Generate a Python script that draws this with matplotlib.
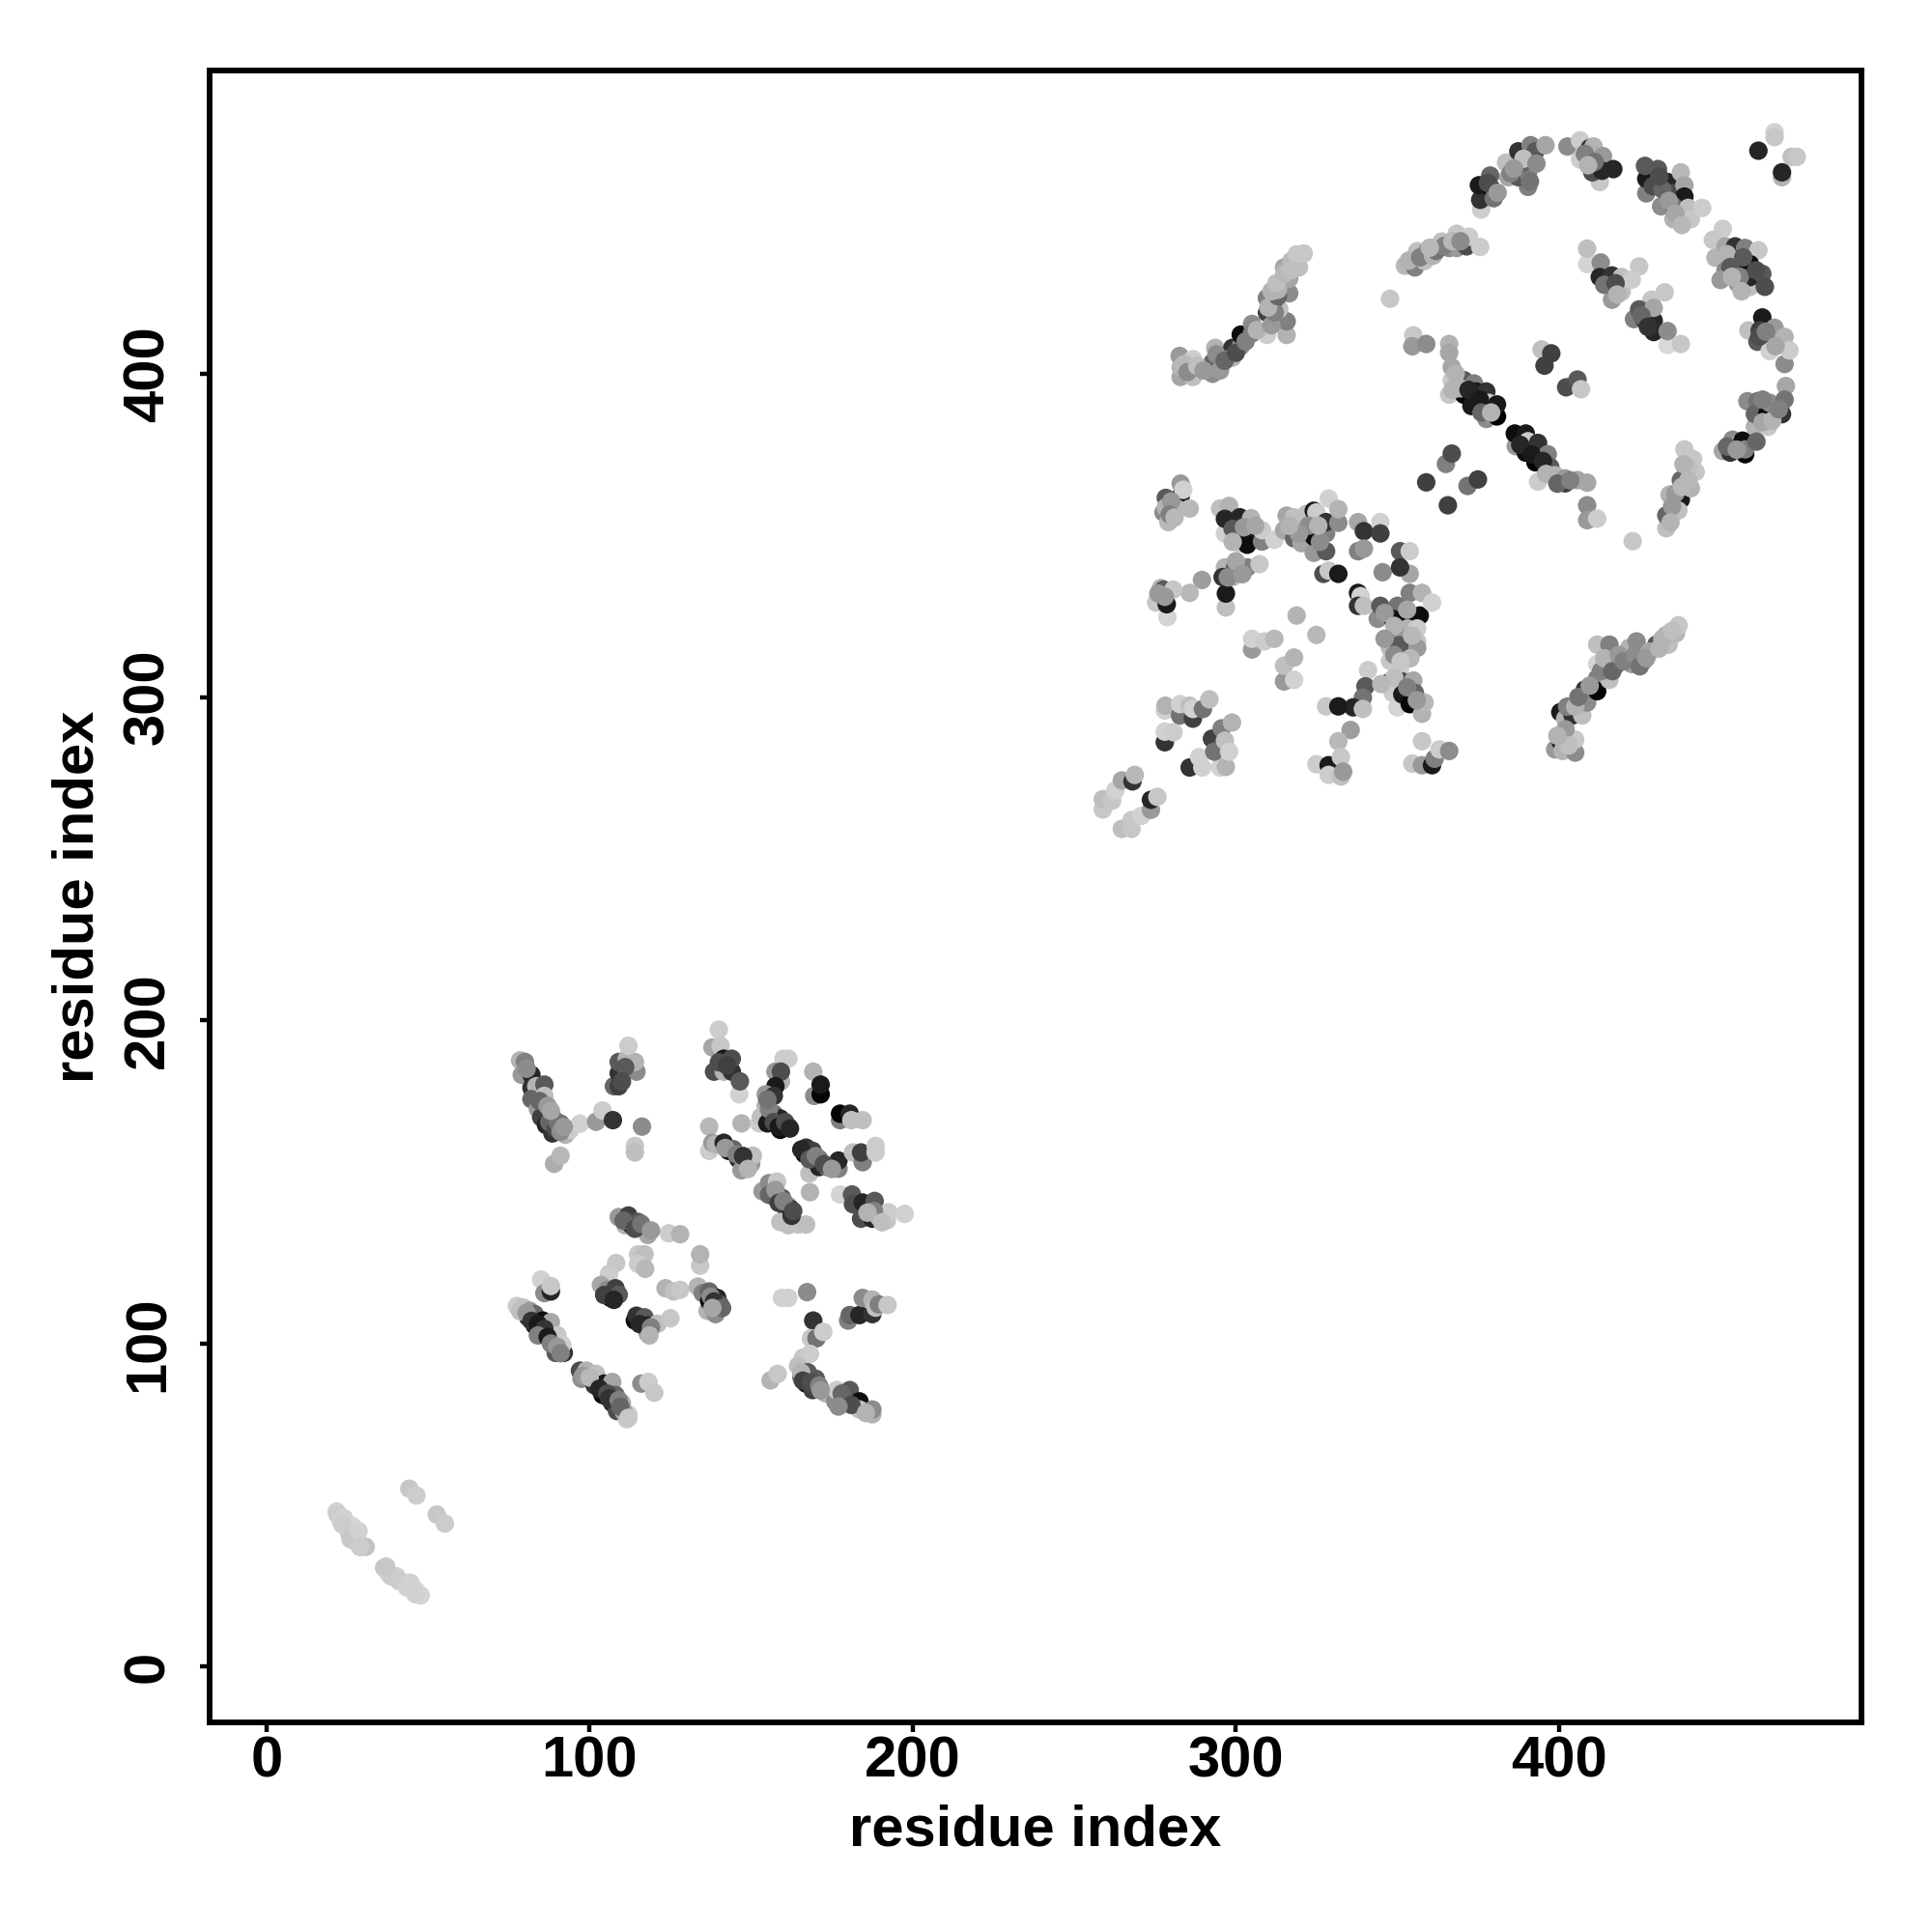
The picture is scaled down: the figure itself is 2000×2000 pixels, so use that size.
import matplotlib
matplotlib.use("Agg")
import matplotlib.pyplot as plt

# each entry: residue i, residue j, grey level of the contact
n_term = [(21.7,48,.82),(22,47,.8),(23,45,.82),(24,46,.82),(25,43,.8),(26.5,43.6,.83),(27,41,.82),(28,40,.8),(27.7,38.6,.82),(30.7,37.1,.76),
    (36.4,30.6,.78),(37.7,29.1,.8),(40.2,28,.82),(42.7,26,.82),(45.2,24.6,.83),(46.2,23.6,.83),(47.7,22.1,.83),
    (44.2,55.1,.78),(46.4,53,.8),(52.7,47.1,.78),(55.2,44.3,.8)]

low_upper_left = [(78.5,187.6,.7),(80,187.1,.5),(79,183.1,.6),(82,183.1,.15),(82,179.1,.2),(83.5,179.6,.7),(86,180.1,.35),(82,175.6,.4),
    (86,176.6,.75),(84,172.6,.6),(86.5,171.6,.5),(85,170,.25),(88.5,170,.4),(86.5,167.6,.15),(91,168,.35),(88.5,165,.2),(92.5,164.6,.7),
    (94,166.1,.8),(97,168,.82),(102,168.6,.6),(104,172.1,.8),(107.2,169.1,.2),(89,155.6,.68),(91,158.1,.72),(116.2,167.1,.55),
    (114,161.1,.78),(114,159.1,.75),(107.5,179.6,.4),(109,179.6,.25),(109,183.6,.2),(109,187.1,.35),(114.5,184.1,.55),(111.5,188.1,.7),
    (114,187.1,.7),(112,192.1,.8)]

low_upper_right = [(138,191.6,.65),(138.5,184.1,.3),(140,197.1,.8),(140.5,192.1,.78),(141.5,184.1,.7),(141.5,188.1,.1),(144,184.1,.2),(144,188.1,.3),
    (146.3,177.1,.82),(146.5,181.1,.35),(147,168.1,.7),(152.5,168.1,.8),(160,188.1,.8),(161.5,188.1,.8),(157.5,184.1,.6),(159.2,181.1,.7),
    (159.2,184.1,.3),(157.5,179.6,.1),(154.5,177.1,.6),(157,176.6,.2),(154.5,173.6,.7),(153,170.1,.75),(156,170.6,.5),(157,171.1,.45),
    (155,168.1,.1),(159,169.6,.15),(159,166.1,.05),(161.5,167.1,.2),(169.2,184.1,.7),(169.5,176.6,.55),(171.5,177.1,.02),(171.5,180.1,.1),
    (177.5,169.1,.5),(177.5,171.1,.02),(180.5,171.1,.15),(181,169.1,.75),(184.5,169.1,.75),
    (137,167.1,.72),(137,159.6,.8),(138,162.1,.6),(139,161.6,.7),(141.5,162.1,.15),(143,159.6,.1),(144.5,160.1,.4),(146,157.1,.15),
    (148.5,155.1,.75),(147,153.6,.6),(150,155.6,.6),(150.5,158.1,.75),(168,152.6,.75),(167,160.6,.2),(166.5,158.6,.05),(169,159.6,.25),
    (171,157.1,.45),(171,154.6,.15),(173.5,154.6,.5),(174.5,154.6,.7),(177,154.1,.5),(177,156.6,.15),(181.5,159.1,.75),(184.5,156.1,.5),
    (184,159.1,.25),(188.5,161.1,.8),(188.5,159.1,.8),(168.2,146.8,.7),(153.5,147.1,.6),(155.5,149.6,.55),(157,145.6,.15),(159.5,145.1,.35),
    (158,150.1,.78),(161.5,142.6,.65),(161,139.6,.2),(162.2,141.6,.1),(159,137.6,.75),(161.5,136.6,.75),(164.5,136.8,.76),(167,136.8,.75),
    (177.5,146.1,.83),(181.2,146.1,.35),(181.5,143.1,.3),(184.5,143.6,.15),(184,138.6,.3),(188.2,144.1,.35),(187.5,138.6,.15),(189.5,139.1,.75),
    (192,138.1,.78),(192.5,140.6,.8),(197.5,140.1,.82)]

low_middle = [(109,139.1,.6),(111,136.6,.7),(112,139.6,.25),(113,136.6,.1),(115,137.6,.35),(116.5,135.6,.55),(118,133.6,.65),(124.5,134.1,.8),
    (128,133.8,.7),(115,127.6,.78),(117,127.6,.75),(115,124.6,.8),(117.2,123.1,.72),(134.2,124.1,.78),(134.2,127.6,.7),
    (108.2,124.9,.78),(106,121.6,.8),(103.5,118.1,.65),(105.5,116.6,.55),(106.5,114.1,.05),(108,117.1,.25),(109,115.1,.35),
    (123.5,117.1,.7),(126,116.1,.75),(128,116.6,.78),(133.5,117.6,.7),(136.5,110.1,.7),(139,109.1,.55),(135,115.6,.5),(137,113.1,.05),(137,116.1,.4),
    (139.5,114.1,.15),(140.3,112.1,.35),(114,107.1,.05),(114.5,108.6,.2),(117,108.1,.35),(118,103.1,.6),(118,105.6,.15),(121,106.1,.75),(125,107.8,.78)]

low_lower_left = [(85,119.8,.82),(86,115.6,.55),(88,116.1,.15),(88,117.8,.78),(77.5,111.6,.8),(79.5,111.1,.75),(81.5,110.1,.6),(83,109.1,.4),
    (81,108.1,.15),(83,105.6,.1),(85.5,107.1,.05),(85,103.6,.15),(88,106.6,.65),(89.5,97.1,.35),(92,97.1,.2),(90,102.6,.78),(91.5,99.6,.8),
    (97,91.6,.3),(97.5,89.1,.55),(99,91.6,.7),(102,90.6,.75),(101.5,87.1,.2),(104.5,87.6,.1),(107,88.1,.65),(104,84.1,.05),(107,81.6,.15),
    (108,84.1,.4),(108.5,79.1,.3),(110,81.6,.7),(111.5,76.6,.8),(112,78.1,.82),(116,87.6,.55),(118.2,88.1,.8),(120,84.8,.78)]

low_lower_right = [(159.5,114.1,.82),(161.5,114.1,.82),(167.3,115.9,.55),(169.2,107.1,.2),(168.5,101.6,.78),(170.2,101.6,.45),(172.3,103.6,.8),
    (166,95.6,.78),(168.2,96.8,.8),(156,88.6,.7),(158.2,90.6,.78),(164.5,93.1,.75),(165.5,89.6,.5),(167.5,91.1,.35),(167,87.6,.05),(170,89.1,.35),
    (169,85.6,.25),(173,84.6,.7),(176,82.1,.55),(176.5,85.6,.8),(179,82.1,.1),(180.5,85.6,.35),(183.5,82.1,.05),(183.5,79.6,.75),(187.5,78.1,.7),(187.5,79.6,.55),
    (180,107.1,.5),(180.5,108.8,.4),(183.5,108.8,.15),(187.5,109.1,.2),(184.5,114.1,.55),(187.5,113.6,.7),(188.5,111.1,.75),(189.5,112.1,.5),(192.2,111.9,.78)]

high_band_left = [(282.6,405.5,.6),(282.9,399,.65),(282.9,402,.7),(287.2,401,.2),(286.7,399,.75),(286.7,404.5,.8),(293.6,408,.7),(292.8,400,.55),(292.8,403.5,.4),
    (295.1,401,.6),(298.9,408,.2),(298.9,405,.7),(301.5,408.5,.55),(301.5,412.1,.05),(305,415.4,.55),(305,412.5,.5),(309.6,412,.8),(315.7,412,.7),
    (315.7,416.2,.5),(309.6,418.9,.25),(313.4,420,.75),(309.6,423.4,.5),(311.9,422.9,.25),(316.5,424.9,.55),(314.2,428.9,.75),(316.5,429.4,.65),
    (314.9,432.9,.65),(319.5,432.9,.75),(317.2,434.9,.72),(318.8,436.9,.78),(321,437.2,.78)]

high_band_top = [(352.3,433.4,.72),(355.4,432.9,.5),(356.1,437.9,.75),(358.4,434.9,.75),(359.2,437.9,.55),(363.7,440.9,.75),(366,438.9,.55),(368.3,438.9,.6),
    (368.3,443.3,.78),(371.4,439.4,.3),(372.1,442.4,.8),(375.6,439.2,.8),(347.7,423.2,.78)]

high_ring = [(375.9,450.8,.8),(375.6,453.8,.2),(375.2,458.3,.1),(379,457.3,.05),(379.8,454.3,.45),(378.7,461.3,.4),(384.3,460.8,.65),(383.6,465.3,.75),
    (390.4,457.8,.5),(387.4,460.8,.35),(390.4,462.3,.5),(387.4,468.8,.2),(391.2,470.7,.5),(392.7,468.8,.35),(395.8,470.7,.65),
    (402.6,470.3,.55),(406.5,466.3,.8),(406.5,472.2,.8),(409.5,469.8,.2),(412.6,459.3,.78),(410.3,462.3,.3),(410.7,470.3,.7),(413.6,467.3,.6),(413.3,462.8,.15),(416.8,463.3,.15),
    (427,455.8,.5),(427,460.3,.1),(426.6,464.3,.35),(431.6,451.8,.55),(430.6,463.3,.35),(433.6,459.3,.15),(435.4,447.8,.7),(435.4,455.8,.3),(437.7,462.3,.72),
    (438.8,458.3,.65),(438.8,454.8,.1),(435.4,451.8,.45),(440,451.3,.75),(440.8,447.8,.78),(444.3,451.3,.8),
    (466.7,474.7,.82),(466.7,473.2,.78),(461.7,469,.15),(472,467.1,.75),(473.6,467.1,.78),(469,460.8,.7),(469,462.3,.15),
    (450.7,444.8,.8),(447.6,441.4,.78),(448.4,435.9,.7),(451.5,439.4,.65),(454.5,439.4,.2),(451.5,431.9,.55),(457.6,438.9,.5),(454.5,434.9,.15),(461.7,438.2,.78),
    (455.3,427.9,.6),(459.1,433.9,.05),(459.1,426.9,.75),(459.1,429.9,.15),(462.9,430.9,.35),(463.7,426.9,.3)]

high_inner = [(408.7,433.9,.83),(408.7,438.7,.75),(412.9,434.4,.55),(412.6,429.9,.15),(416.4,430.4,.2),(424.8,433.2,.78),(416.4,422.9,.6),(417.1,426.9,.4),
    (419.4,425.4,.75),(419.4,429.9,.75),(422.5,429.1,.8),(432.7,425.2,.78),(428.6,422.9,.78),(423.2,416.9,.5),(424.8,419.9,.35),(426.3,416.9,.2),(429.3,412.9,.15),
    (429.3,416.4,.15),(429.3,420.4,.65),(433.6,408.9,.85),(433.6,413.2,.55),(437.7,409.2,.78),
    (458.6,413.4,.75),(462.9,417.4,.1),(462.1,413.4,.25),(461.4,409.9,.35),(465.2,410.5,.35),(466.7,414.2,.6),(465.2,407,.82),(469.8,403,.55),(469.8,411.4,.7),(471.3,407.2,.8),
    (470.2,396.2,.65),(460.6,383.6,.7),(464.7,383.6,.78),(458.3,391.5,.55),(461.4,391.5,.45),(460.6,387.5,.4),(464.4,387.5,.05),(465.2,391,.55),(469,387.5,.2),(469.8,392,.45),
    (450.7,376.1,.65),(453,375.6,.2),(453.7,379.6,.55),(456,378.6,.75),(457.6,375.1,.02),(456.8,379.3,.05),(457.6,376.6,.5),(461.1,379,.4)]

high_diagonal = [(354.9,411.9,.78),(354.6,408.5,.6),(358.9,409.2,.55),(366,409.2,.7),(366,406.5,.65),(366.8,402,.65),(366,393.5,.78),(366.8,398,.78),(370.6,398,.35),
    (373.7,397,.5),(370.6,393.5,.02),(374.4,394.5,.1),(377.5,394.5,.2),(372.9,390,.1),(377.5,386,.55),(378.2,391,.8),(380.8,386.8,0),(380.8,390.5,.1),
    (386.6,377.6,.6),(386.3,381.5,.05),(389.7,381.5,.1),(390.4,379.1,.8),(389.7,375.6,.05),(393.5,378.6,.2),(393.5,366.6,.8),(392.7,372.6,0),(396.5,375.1,.5),(397.3,371.1,.35),
    (398.8,368.6,.7),(401.9,366.1,.25),(401.9,367.6,.6),(405.7,367.1,.65),(408.7,366.3,.65),
    (394.6,407.5,.75),(397.6,406.3,.25),(395.5,402.5,.25),(402.2,395.8,.3),(405.7,398.2,.35),(406.8,395.2,.78),
    (365,372.1,.5),(366.8,375.3,.3),(358.9,366.4,.25),(371.7,365.3,.45),(374.9,367.3,.25),(365.6,359.3,.25),
    (408.7,359.3,.55),(408.7,354.7,.6),(411.8,355.2,.8),(422.8,348.2,.78),
    (438.8,376.6,.78),(441.5,373.6,.78),(439.3,369.1,.55),(437.7,367.1,.4),(442.3,369.6,.78),(437.7,361.1,.1),(440.8,364.6,.7),(434.2,362.6,.7),(433.2,352.2,.75),
    (433.2,356.2,.4),(436.9,357.7,.75)]

high_mid = [(278.3,361.6,.35),(282.9,366,.6),(282.9,362.1,.1),(283.7,364.1,.82),(277.6,357.1,.55),(279.1,354.1,.72),(278.3,358.6,.7),(282.1,358.1,.72),(285.7,358.3,.72),
    (295.1,358.3,.75),(297.9,359.1,.7),(296.6,350.6,.82),(296.6,355.1,.15),(301.2,347.6,.78),(301.2,355.6,.15),(304.7,355.3,.7),(300.4,351.6,.1),(304,350.6,.1),(303.5,347.1,.05),
    (308.1,348.1,.5),(308.1,351.6,.8),(311.9,348.6,.82),(314.9,351.6,.65),(315.7,356.1,.65),(318,355.6,.75),(318,349.1,.4),(320.3,347.6,.65),(321.8,356.6,.75),(321,352.6,.75),
    (324.1,344.6,.6),(327.9,345.1,.35),(324.1,357.6,.1),(323.3,352.1,.05),(324.1,349.6,.05),(324.9,357.1,.8),(327.9,350.6,.5),(327.9,354.1,.2),(328.7,361.4,.82),(331.7,353.9,.55),(331.7,358.1,.7),
    (337.8,354.1,.65),(339.6,351.3,.2),(344.7,354.1,.82),(344.7,350.6,.25),(337.8,345.1,.5),(339.6,345.9,.6),(350.8,345.1,.35),(353.8,345.1,.8),
    (345.4,338.6,.55),(353.8,338.1,.65),(350.8,340.1,.2),(327.1,338.1,.3),(328.7,339.1,.78),(331.7,338.1,.1),
    (296.6,340.1,.7),(295.9,337.1,.2),(298.9,337.1,.7),(299.7,340.1,.4),(303.5,340.1,.5),(307.3,341.1,.78),
    (289.5,336.2,.62),(285.7,332.2,.72),(275.3,329.2,.78),(276.8,333.7,.7),(277.6,333.2,.35),(278.8,324.7,.83),(278.6,328.7,.1),(280.6,333.2,.78),(296.9,327.7,.75),(296.9,332,.1),
    (318.8,325.2,.7),(324.9,319.2,.72),(305,314.7,.6),(305,318,.82),(308.8,317.2,.8),(311.9,318,.72),(314.9,304.8,.6),(314.9,309.7,.75),(318,312.2,.7),(318,305.3,.82)]

high_stack = [(337.8,332.2,.1),(338.6,331.2,.82),(337.8,328.2,.2),(339.6,328.2,.75),(343.9,324.2,.55),(344.7,328.2,.35),(350,328.2,.45),(348.5,324.2,.1),(353.8,332.2,.5),
    (352.3,324.7,.05),(357.6,332.2,.7),(356.9,325.2,.05),(360.7,329.2,.82),(348.5,318.2,.2),(353.1,321.2,.7),(356.1,321.2,.8),(351.5,318.2,.6),(347.7,315.2,.72),(352.3,315.2,.25),(356.1,317.2,.78),(356.1,315.2,.6),
    (347.7,311.2,.78),(350.8,308.8,.8),(347,304.3,.05),(351.5,304.8,.3),(354.9,305.1,.65),(348.5,301.3,.8),(350,296.8,.83),(351.5,300.8,.1),(355.4,301.3,.4),(353.8,297.8,.02),(357.6,294.8,.7),(358.4,298.3,.72),
    (340.9,308.3,.8),(340.1,303.3,.35),(339.3,299.8,.45),(336.3,296.8,.15),(339.3,296.3,.75),(327.9,297.1,.78),(331.7,297.1,.1),(335.5,289.8,.62),(331.7,286.3,.72),
    (324.9,279.2,.8),(328.7,278.9,.1),(328.7,275.9,.8),(332.5,275.4,.75),(332.5,281.4,.78),(333.2,276.9,.6),
    (357.6,286.3,.78),(354.6,279.4,.78),(357.6,278.9,.6),(360.7,278.9,.1),(361.5,280.9,.5),(363,283.8,.8),(366,283.3,.55)]

high_band_right = [(398.8,283.8,.6),(400.4,286.3,.15),(401.1,283.3,.7),(405,282.8,.55),(405,286.8,.78),(400.4,295.3,.1),(401.9,293.3,.7),(404.2,294.3,.2),(407.2,294.3,.75),
    (408,302.3,.2),(408.7,298.3,.55),(411.8,305.8,.5),(411.8,301.8,.02),(415.6,305.3,.75),(411.8,316.2,.75),(411.8,310.2,.83),(415.6,316.2,.5),(417.9,310.2,.3),(421.7,315.2,.7),
    (422.5,310.2,.6),(424,317.2,.55),(426.3,311.2,.7),(430.1,316.2,.35),(433.2,319.2,.7),(433.9,316.2,.75),(436.2,319.7,.72),(437,322.2,.78)]

high_lower_left = [(264.7,259.2,.75),(267.7,259.2,.78),(267.7,261.9,.78),(270.7,263.2,.82),(273.7,265.1,.6),(273.7,268.2,.15),(275.7,269.1,.78),
    (258.8,265.2,.78),(258.8,268.4,.75),(261.7,267.9,.78),(262.7,271.1,.82),(264.7,274.2,.65),(268,273.9,.2),(268.7,275.9,.72),
    (278,286,.2),(278,289.3,.82),(280.7,289.1,.8),(278,295.8,.82),(278.2,297.3,.7),(282.7,294.3,.45),(282.7,297.8,.82),(286.7,293.3,.25),(285.7,297.3,.75),(286.7,296.3,.82),
    (289.8,296.3,.45),(291.8,299.3,.75),(285.7,278.2,.2),(288.6,281.4,.82),(289.6,278.2,.82),(295.1,278.2,.82),(296.9,278.4,.7),(292.6,287.1,.25),(293.3,283.1,.45),
    (295.6,290.3,.5),(298.8,292.1,.7),(296.6,286.5,.75),(297.9,283.1,.82)]

# dense parts of the bands, second pass over the picture
fill_low = [(80.5,185,.55),(84.5,175,.4),(87,173.5,.6),(87.5,168.5,.4),(89.5,166.5,.3),(90,168.5,.45),(91,165.5,.55),(92,167,.6),(88,172,.65),(111,185.5,.35),(110,181,.3),
    (140,187,.3),(142.5,186,.25),(155.5,172.5,.5),(157,168.5,.3),(158.5,167,.1),(160.5,168.5,.3),(162,166.5,.15),(155,175.5,.45),(142,160.5,.6),(145.5,158.5,.5),(147.5,158,.2),(149,154,.7),
    (165.5,160,.15),(168,157,.35),(170,158,.5),(172.5,155.5,.3),(175,154,.6),(155.5,146,.4),(157.5,147.5,.6),(158.5,143.5,.25),(160,144,.5),(162.5,139.5,.2),(163,141,.3),(188,141,.5),(186,140.5,.7),(190.5,137.5,.75),
    (110.5,138,.4),(114,135.5,.3),(116,137,.45),(119,135,.6),(137.5,114.5,.55),(138.5,113,.2),(141,111,.4),(138,111,.65),(104.5,115,.25),(107.5,113.5,.15),(115.5,106,.15),(119,105,.5),(118.5,102.5,.7),
    (78.5,110,.75),(80.5,109.5,.6),(82,107,.2),(84,106,.1),(86,104.5,.2),(84,102.5,.5),(87,102,.1),(88,100,.5),(90,99,.6),(91,97,.5),(98,90,.6),(100,89.5,.72),(103,86,.15),(105.5,84.5,.3),(106,83,.2),(109,82.5,.5),(110.5,79,.65),(109.5,80.5,.4),(112,77,.78),
    (165.5,91,.7),(166,88.5,.25),(168.5,88,.3),(171,87,.5),(171.5,85.5,.6),(178,84.5,.4),(181,81,.3),(185.5,78.5,.7),(177,80.5,.55)]

fill_n_term = [(23.5,44,.8),(25.5,41.5,.8),(26,39.5,.78),(28.5,42,.82),(29,37,.8),(38.5,28,.8),(41,26.5,.8),(43.5,24.5,.82),(44.5,26,.82),(46,22.5,.82),(37,31,.78)]

fill_high = [(284,403,.72),(285,400.5,.55),(288,402.5,.75),(290,401,.6),(294,406,.55),(296.5,404,.4),(300,406.5,.3),(303,410,.5),(306.5,413.5,.7),(311,415,.6),(312,419,.5),(310,420.5,.7),(313,424,.4),(311,425.5,.7),(313,426,.7),(312.5,428,.75),(315,431,.72),(317,432,.75),
    (402,290,.6),(403,285,.75),(399.5,288,.7),(402.5,297,.5),(405,297,.7),(406,300,.45),(409.5,303.5,.6),(413,308,.5),(414,312,.7),(416.5,308,.4),(418.5,313,.6),(420,311,.5),(423.5,313,.55),(425,309.5,.45),(428,314,.65),(427,312,.6),(431,315,.7),(432,318,.7),(435,320.5,.75),
    (353.5,435,.7),(357,436,.5),(361,436.5,.7),(362,438,.45),(364.5,439.5,.5),(367,441,.72),(369.5,441,.55),(360,439,.72),
    (346,326,.6),(349,322,.7),(350.5,316,.35),(354.5,319,.72),(353,327,.65),(346,318,.6),(349,313,.55),(354,312,.72),(351,311,.78),(349,306,.75),(353,303,.5),(356,299,.6),(345,304,.72),
    (322.5,353,.55),(319.5,350.5,.6),(316.5,353,.7),(326,348,.55),(325.5,353,.7),(299,352,.35),(302.5,352.5,.6),(299,348,.7),(306,353,.65),(280,360.5,.6),(279.5,356.5,.5),(281,355.5,.72),(276,332,.6),(278,331,.6),(297.5,337,.55),(300,342,.65),(302,338,.6),
    (378,459,.3),(381,456,.6),(385,462,.5),(388.5,465,.4),(389,466.5,.75),(393,465,.55),(391,459.5,.45),(386,463.5,.6),(408,468,.5),(411,465.5,.45),(409,464.5,.7),(429,458,.3),(432,457,.4),(434,453.5,.6),(431,461,.3),(436,449.5,.65),(438,446,.72),
    (452,437,.7),(453,433,.35),(456,430,.5),(457,436,.35),(450,429,.6),(453.5,430,.7),(461,432,.3),(456.5,425.5,.7),
    (368,400,.7),(367,395,.7),(369.5,395.5,.7),(372,395,.15),(375.5,392,.1),(376,388,.4),(379,388,.7),(388,378,.15),(391.5,375,.1),(395,373,.15),(396,369,.7),(399.5,366,.4),(403.5,367,.5),
    (452,377.5,.4),(455,376.5,.6),(463,385,.65),(466,385.5,.7),(468,389,.5),(463,392,.5),(462,411.5,.3),(464,413,.5),(467,408.5,.65),(436,363,.6),(438,365,.72),(440,371,.75),(435,359,.6),(434.5,354,.7),(438.5,372,.7),(440,367,.72),
    (414,427.5,.45),(417.5,428,.3),(418,424.5,.7),(425.5,418,.4),(427.5,414.5,.2)]

clusters = [n_term, low_upper_left, low_upper_right, low_middle, low_lower_left, low_lower_right,
            high_band_left, high_band_top, high_ring, high_inner, high_diagonal, high_mid, high_stack,
            high_band_right, high_lower_left, fill_n_term, fill_low, fill_high]

tick_vals = [0, 100, 200, 300, 400]

plt.rcParams['font.family'] = ['Liberation Sans', 'DejaVu Sans']
plt.rcParams['font.weight'] = 'bold'

fig = plt.figure(figsize=(20, 20), dpi=100)
ax = fig.add_axes([217/2000, 217/2000, 1710/2000, 1710/2000])

for pts in clusters:
    xs = [p[0] for p in pts]
    ys = [p[1] for p in pts]
    cols = [str(p[2]) for p in pts]
    ax.scatter(xs, ys, c=cols, s=190, linewidths=0, zorder=3)

ax.set_xlim(-17.6, 493.6)
ax.set_ylim(-17.2, 493.8)
ax.set_xticks(tick_vals)
ax.set_yticks(tick_vals)
ax.tick_params(axis='x', length=7, width=3.2, labelsize=43, pad=2.5)
ax.tick_params(axis='y', length=7, width=3.2, labelsize=43, pad=18.5)
for t in ax.get_yticklabels():
    t.set_rotation(90)
    t.set_va('center')
for s in ax.spines.values():
    s.set_linewidth(4.2)

ax.set_xlabel("residue index", fontsize=43, fontweight='bold')
ax.set_ylabel("residue index", fontsize=43, fontweight='bold')
ax.xaxis.set_label_coords(0.5, -0.0655)
ax.yaxis.set_label_coords(-0.0795, 0.5)
ax.xaxis.label.set_verticalalignment('center')
ax.yaxis.label.set_verticalalignment('center')

fig.savefig("out.png", dpi=100)
